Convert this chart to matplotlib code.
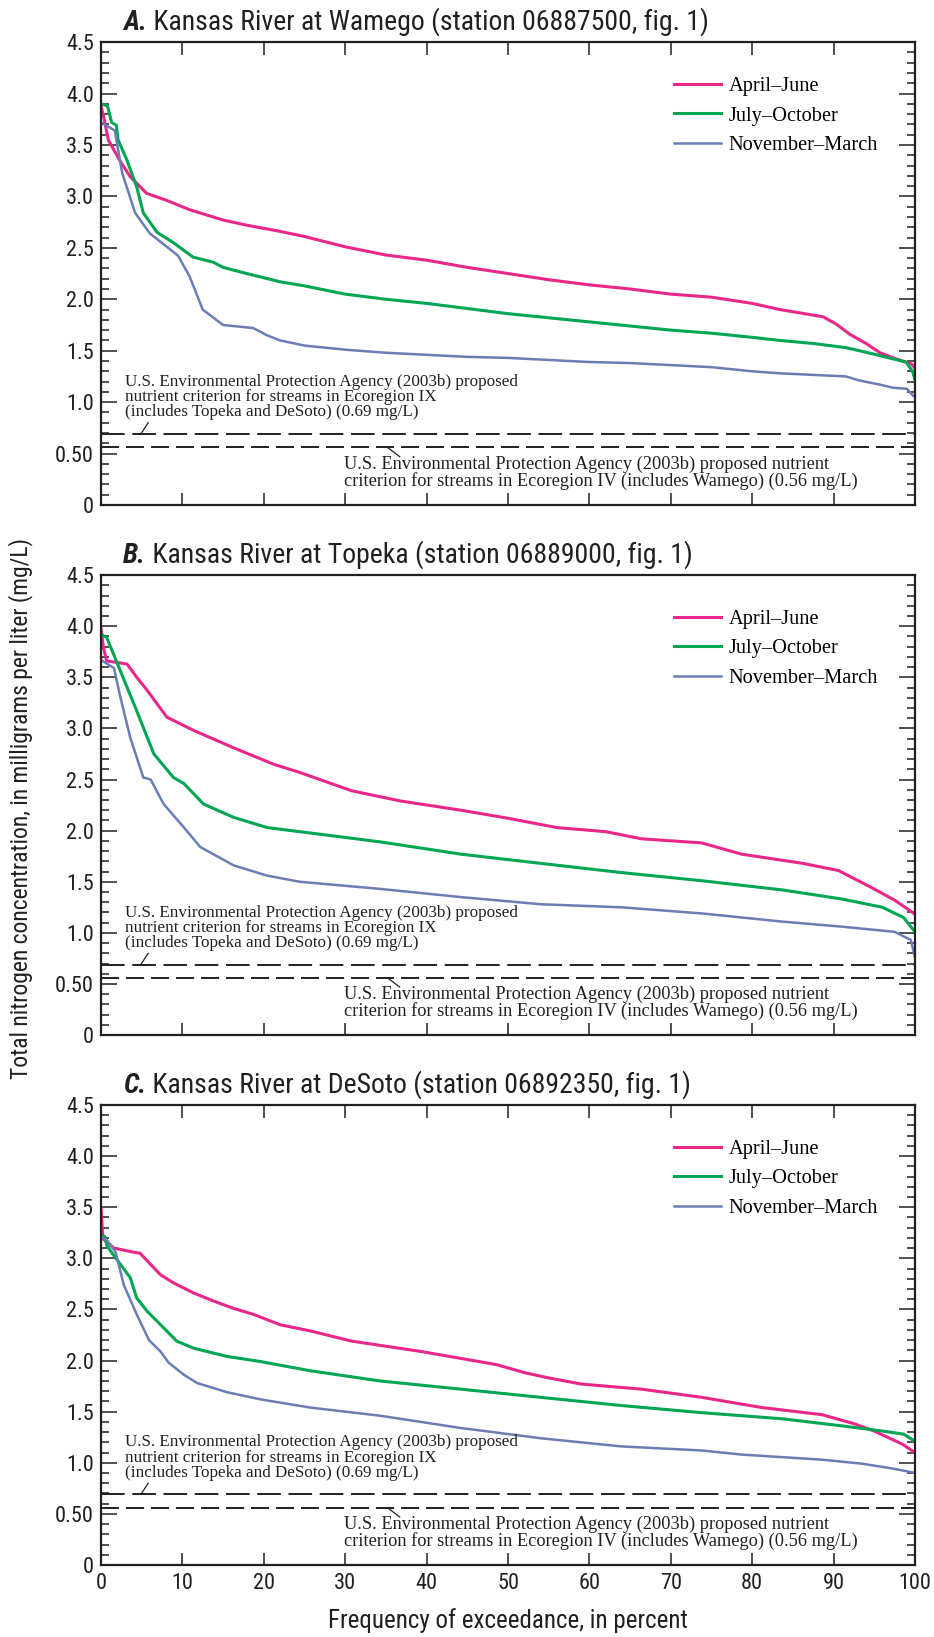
import matplotlib
matplotlib.use('Agg')
import matplotlib.pyplot as plt
from matplotlib.ticker import MultipleLocator

plt.rcParams['font.family'] = ['Liberation Sans Narrow', 'Roboto Condensed', 'Roboto', 'DejaVu Sans']
plt.rcParams['lines.scale_dashes'] = False

# --- data (percent exceedance, mg/L) ---
# A. Wamego
wam_apr_x = [0, 0.4, 0.9, 2.3, 3.6, 5.6, 8.1, 10.9, 15, 17.9, 22, 25, 30, 35, 40, 45, 50, 55, 60, 65, 70, 75, 80, 83.4, 88.7, 90.3, 92, 94, 95.7, 97.7, 99.6, 100]
wam_apr_y = [3.88, 3.75, 3.55, 3.35, 3.19, 3.03, 2.96, 2.87, 2.77, 2.72, 2.66, 2.61, 2.51, 2.43, 2.38, 2.31, 2.25, 2.19, 2.14, 2.10, 2.05, 2.02, 1.96, 1.90, 1.83, 1.76, 1.66, 1.57, 1.48, 1.42, 1.37, 1.33]
wam_jul_x = [0, 0.8, 1.3, 1.9, 2.1, 3.2, 4.4, 5.2, 6.9, 8.9, 11.3, 13.8, 15, 17.9, 22, 25, 30, 35, 40, 45, 50, 55, 60, 65, 70, 75, 80, 83.4, 87.5, 91.5, 94.8, 96.8, 98.9, 99.7, 100]
wam_jul_y = [3.90, 3.88, 3.72, 3.69, 3.55, 3.35, 3.09, 2.84, 2.65, 2.55, 2.41, 2.36, 2.31, 2.25, 2.17, 2.13, 2.05, 2.00, 1.96, 1.91, 1.86, 1.82, 1.78, 1.74, 1.70, 1.67, 1.63, 1.60, 1.57, 1.53, 1.47, 1.43, 1.39, 1.30, 1.22]
wam_nov_x = [0, 1.7, 2.6, 4.2, 6, 8.9, 9.5, 10.9, 12.5, 15, 18.7, 20.4, 22, 25, 30, 35, 40, 45, 50, 55, 60, 65, 70, 75, 80, 83.4, 91.5, 93.2, 95.7, 97.3, 99, 99.8, 100]
wam_nov_y = [3.72, 3.64, 3.23, 2.84, 2.64, 2.46, 2.42, 2.22, 1.90, 1.75, 1.72, 1.65, 1.60, 1.55, 1.51, 1.48, 1.46, 1.44, 1.43, 1.41, 1.39, 1.38, 1.36, 1.34, 1.30, 1.28, 1.25, 1.21, 1.17, 1.14, 1.13, 1.06, 1.05]

# B. Topeka
top_apr_x = [0, 0.3, 0.7, 3.2, 4.4, 5.7, 8.1, 11.4, 16.3, 21.2, 24.4, 30.8, 36.8, 44.2, 50.1, 56, 62, 66.4, 73.8, 78.7, 86.2, 90.6, 94.5, 97.5, 99.7, 100]
top_apr_y = [3.98, 3.79, 3.66, 3.63, 3.50, 3.37, 3.11, 2.98, 2.81, 2.65, 2.57, 2.39, 2.29, 2.20, 2.12, 2.03, 1.99, 1.92, 1.88, 1.77, 1.68, 1.61, 1.45, 1.32, 1.20, 1.18]
top_jul_x = [0, 0.7, 2.4, 4.4, 6.5, 8.9, 10.2, 12.6, 16.3, 20.4, 24.4, 34.3, 44.2, 54, 63.9, 73.8, 83.7, 91.1, 96, 98.6, 99.9, 100]
top_jul_y = [3.92, 3.89, 3.56, 3.17, 2.75, 2.52, 2.46, 2.26, 2.13, 2.03, 1.99, 1.89, 1.77, 1.68, 1.59, 1.51, 1.42, 1.33, 1.25, 1.15, 1.02, 1.00]
top_nov_x = [0, 1.6, 2.4, 3.6, 5.2, 6.1, 7.7, 10.2, 12.2, 16.3, 20.4, 24.4, 34.3, 44.2, 54, 63.9, 73.8, 83.7, 91.1, 97.5, 99.5, 100]
top_nov_y = [3.67, 3.59, 3.30, 2.91, 2.52, 2.50, 2.26, 2.03, 1.84, 1.66, 1.56, 1.50, 1.43, 1.35, 1.28, 1.25, 1.19, 1.11, 1.06, 1.01, 0.93, 0.76]

# C. DeSoto
des_apr_x = [0, 0.25, 1.6, 4.0, 4.8, 7.3, 8.9, 11.4, 13.9, 16.3, 18.8, 22, 25.7, 30.8, 39.2, 48.6, 52.1, 55, 59, 66.4, 73.8, 81.2, 88.6, 92.6, 95, 98.5, 100]
des_apr_y = [3.49, 3.19, 3.10, 3.06, 3.05, 2.84, 2.76, 2.66, 2.58, 2.51, 2.45, 2.35, 2.29, 2.19, 2.09, 1.96, 1.88, 1.83, 1.77, 1.72, 1.64, 1.54, 1.47, 1.38, 1.31, 1.18, 1.10]
des_jul_x = [0, 0.5, 0.7, 1.1, 2.4, 3.6, 4.4, 5.7, 7.7, 9.3, 11.4, 15.5, 19.6, 25.7, 34.3, 44.2, 54, 63.9, 73.8, 83.7, 91.1, 96, 98.6, 100]
des_jul_y = [3.23, 3.21, 3.13, 3.08, 2.94, 2.81, 2.61, 2.48, 2.32, 2.19, 2.12, 2.04, 1.99, 1.90, 1.80, 1.72, 1.64, 1.56, 1.49, 1.43, 1.36, 1.31, 1.28, 1.21]
des_nov_x = [0, 0.7, 1.8, 2.8, 4.4, 5.9, 7.3, 8.3, 10.2, 11.8, 15.5, 19.6, 25.7, 34.3, 44.2, 54, 63.9, 73.8, 78.7, 88.6, 93.6, 97.5, 100]
des_nov_y = [3.21, 3.18, 3.06, 2.74, 2.45, 2.20, 2.09, 1.98, 1.86, 1.78, 1.69, 1.62, 1.54, 1.46, 1.34, 1.24, 1.16, 1.12, 1.08, 1.03, 0.99, 0.94, 0.90]

seasons = ['April\u2013June', 'July\u2013October', 'November\u2013March']
colors = ['#E9268A', '#00A651', '#6A7DB5']
widths = [2.2, 2.2, 1.8]

letters = ['A.', 'B.', 'C.']
titles = [' Kansas River at Wamego (station 06887500, fig. 1)',
          ' Kansas River at Topeka (station 06889000, fig. 1)',
          ' Kansas River at DeSoto (station 06892350, fig. 1)']

criterion_ix = 0.69
criterion_iv = 0.56
ytick_vals = [0, 0.5, 1.0, 1.5, 2.0, 2.5, 3.0, 3.5, 4.0, 4.5]
ytick_text = ['0', '0.50', '1.0', '1.5', '2.0', '2.5', '3.0', '3.5', '4.0', '4.5']

note_ix = ('U.S. Environmental Protection Agency (2003b) proposed\n'
           'nutrient criterion for streams in Ecoregion IX\n'
           '(includes Topeka and DeSoto) (0.69 mg/L)')
note_iv = ('U.S. Environmental Protection Agency (2003b) proposed nutrient\n'
           'criterion for streams in Ecoregion IV (includes Wamego) (0.56 mg/L)')

ink = '#231F20'
serif = 'Liberation Serif'

series = [
    [(wam_apr_x, wam_apr_y), (wam_jul_x, wam_jul_y), (wam_nov_x, wam_nov_y)],
    [(top_apr_x, top_apr_y), (top_jul_x, top_jul_y), (top_nov_x, top_nov_y)],
    [(des_apr_x, des_apr_y), (des_jul_x, des_jul_y), (des_nov_x, des_nov_y)],
]

fig = plt.figure(figsize=(9.34, 16.37), dpi=100)
positions = [[0.1081, 0.6915, 0.8715, 0.2828],
             [0.1081, 0.3677, 0.8715, 0.2810],
             [0.1081, 0.0440, 0.8715, 0.2810]]

for i in range(3):
    ax = fig.add_axes(positions[i])
    for j in range(3):
        x, y = series[i][j]
        ax.plot(x, y, color=colors[j], lw=widths[j], label=seasons[j], solid_joinstyle='round')

    ax.axhline(criterion_ix, color=ink, lw=1.4, dashes=(17, 5.5))
    ax.axhline(criterion_iv, color=ink, lw=1.4, dashes=(13, 5))

    ax.set_xlim(0, 100)
    ax.set_ylim(0, 4.5)
    ax.xaxis.set_major_locator(MultipleLocator(10))
    ax.set_yticks(ytick_vals)
    ax.set_yticklabels(ytick_text)
    ax.yaxis.set_minor_locator(MultipleLocator(0.1))

    ax.tick_params(axis='y', which='major', direction='in', length=11.5, width=1.1,
                   left=True, right=True, labelsize=16, pad=5, colors=ink)
    ax.tick_params(axis='y', which='minor', direction='in', length=6, width=1.1,
                   left=True, right=True, colors=ink)
    ax.tick_params(axis='x', which='major', direction='in', length=9, width=1.1,
                   top=(i != 1), bottom=True, labelbottom=(i == 2), labelsize=16, pad=6, colors=ink)
    for s in ax.spines.values():
        s.set_linewidth(1.6)
        s.set_color(ink)

    ax.legend(loc='upper right', bbox_to_anchor=(0.955, 0.925), frameon=False,
              prop={'family': serif, 'size': 14.7}, handlelength=2.3, handletextpad=0.4,
              labelspacing=0.5, borderaxespad=0, borderpad=0)

    ax.text(2.9, 1.05, note_ix, family=serif, fontsize=12.3, va='center', ha='left',
            linespacing=0.93, color=ink)
    ax.text(29.9, 0.315, note_iv, family=serif, fontsize=13.2, va='center', ha='left',
            linespacing=0.93, color=ink)
    ax.plot([4.9, 5.8], [criterion_ix, 0.80], color=ink, lw=0.9)
    ax.plot([35.2, 36.7], [criterion_iv, 0.47], color=ink, lw=0.9)

    t1 = ax.text(0.027, 1.026, letters[i], transform=ax.transAxes, fontsize=20,
                 fontweight='bold', fontstyle='italic', va='baseline', color=ink)
    ax.annotate(titles[i], xy=(1, 0), xycoords=t1, va='bottom', ha='left',
                fontsize=20, color=ink)

fig.text(0.0225, 0.506, 'Total nitrogen concentration, in milligrams per liter (mg/L)',
         rotation=90, va='center', ha='center', fontsize=17, color=ink)
fig.text(0.5439, 0.0098, 'Frequency of exceedance, in percent',
         va='center', ha='center', fontsize=18, color=ink)

fig.savefig('out.png', dpi=100)
